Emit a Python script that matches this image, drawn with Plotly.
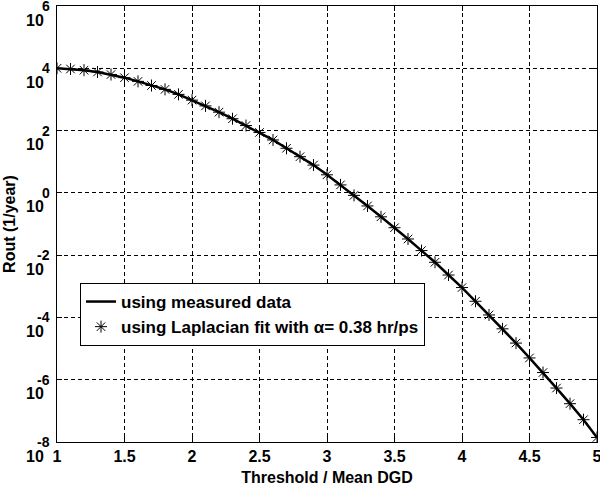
import plotly.graph_objects as go

# Threshold / Mean DGD
threshold = [1.0, 1.1, 1.2, 1.3, 1.4, 1.5, 1.6, 1.7, 1.8, 1.9,
             2.0, 2.1, 2.2, 2.3, 2.4, 2.5, 2.6, 2.7, 2.8, 2.9,
             3.0, 3.1, 3.2, 3.3, 3.4, 3.5, 3.6, 3.7, 3.8, 3.9,
             4.0, 4.1, 4.2, 4.3, 4.4, 4.5, 4.6, 4.7, 4.8, 4.9, 5.0]

# Rout (1/year) using measured data
rout_measured = [1.0e4, 9.5e3, 8.7e3, 7.6e3, 6.3e3, 5.0e3, 3.8e3, 2.8e3, 2.1e3, 1.45e3,
                 9.5e2, 6.2e2, 3.9e2, 2.4e2, 1.45e2, 8.7e1, 5.0e1, 2.7e1, 1.45e1, 7.8,
                 3.8, 1.8, 0.83, 0.38, 0.17, 7.6e-2, 3.3e-2, 1.4e-2, 5.9e-3, 2.3e-3,
                 9.1e-4, 3.3e-4, 1.2e-4, 4.3e-5, 1.5e-5, 5.0e-6, 1.7e-6, 5.4e-7, 1.7e-7, 5.2e-8, 1.4e-8]

# Rout (1/year) using Laplacian fit
rout_fit = [1.0e4, 9.5e3, 8.7e3, 7.6e3, 6.3e3, 5.0e3, 3.8e3, 2.8e3, 2.1e3, 1.45e3,
            9.5e2, 6.2e2, 3.9e2, 2.4e2, 1.45e2, 8.7e1, 5.0e1, 2.7e1, 1.45e1, 7.8,
            3.8, 1.8, 0.83, 0.38, 0.17, 7.6e-2, 3.3e-2, 1.4e-2, 5.9e-3, 2.3e-3,
            9.1e-4, 3.3e-4, 1.2e-4, 4.3e-5, 1.5e-5, 5.0e-6, 1.7e-6, 5.4e-7, 1.7e-7, 5.2e-8, 1.4e-8]

x_tick_vals = [1, 1.5, 2, 2.5, 3, 3.5, 4, 4.5, 5]
x_tick_labels = ["1", "1.5", "2", "2.5", "3", "3.5", "4", "4.5", "5"]
y_tick_exponents = [6, 4, 2, 0, -2, -4, -6, -8]

FONT = "Liberation Sans, Arial, sans-serif"

fig = go.Figure()
fig.add_trace(go.Scatter(
    x=threshold, y=rout_measured, mode="lines",
    line=dict(color="black", width=2.5),
    name="<b>using measured data</b>"))
fig.add_trace(go.Scatter(
    x=threshold, y=rout_fit, mode="markers",
    marker=dict(symbol="asterisk-open", size=10, color="black",
                line=dict(color="black", width=1)),
    name="<b>using Laplacian fit with α= 0.38 hr/ps</b>"))

axis_common = dict(
    showline=True, linecolor="black", linewidth=1, mirror="ticks",
    ticks="inside", ticklen=5, tickcolor="black",
    showgrid=True, gridcolor="black", gridwidth=1, griddash="4px,3px",
    zeroline=False, automargin=False,
)

fig.update_xaxes(
    range=[1, 5], tickvals=x_tick_vals, ticktext=[f"<b>{t}</b>" for t in x_tick_labels],
    tickfont=dict(family=FONT, size=16, color="black"),
    ticklabeloverflow="allow",
    title=dict(text="<b>Threshold / Mean DGD</b>", font=dict(family=FONT, size=16, color="black"),
               standoff=7),
    **axis_common)
fig.update_yaxes(
    type="log", range=[-8, 6], tickvals=[10.0 ** e for e in y_tick_exponents],
    showticklabels=False,
    title=dict(text="<b>Rout (1/year)</b>", font=dict(family=FONT, size=16, color="black"),
               standoff=36),
    **axis_common)

annotations = []
for e in y_tick_exponents:
    annotations.append(dict(text="<b>10</b>", xref="paper", x=0, xanchor="right", xshift=-11,
                            yref="y", y=e, yanchor="middle", yshift=-14, showarrow=False,
                            font=dict(family=FONT, size=16, color="black")))
    annotations.append(dict(text=f"<b>{e}</b>", xref="paper", x=0, xanchor="right", xshift=-5,
                            yref="y", y=e, yanchor="middle", yshift=0, showarrow=False,
                            font=dict(family=FONT, size=14, color="black")))

fig.update_layout(
    width=600, height=492,
    margin=dict(l=57, r=3, t=6, b=50),
    paper_bgcolor="white", plot_bgcolor="white",
    font=dict(family=FONT, size=16, color="black"),
    showlegend=True,
    legend=dict(x=0.0426, y=0.3647, xanchor="left", yanchor="top",
                bgcolor="white", bordercolor="black", borderwidth=1,
                font=dict(family=FONT, size=17, color="black"),
                tracegroupgap=0, itemwidth=30),
    annotations=annotations,
)

fig.write_html("out.html", config={"displayModeBar": False},
               post_script="document.body.style.margin='0px';")
